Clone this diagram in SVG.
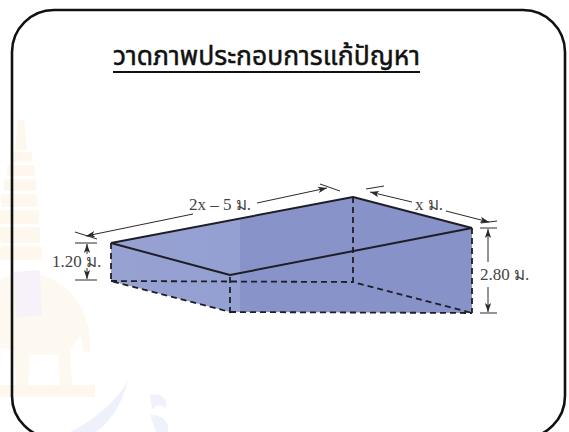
<svg xmlns="http://www.w3.org/2000/svg" width="569" height="432" viewBox="0 0 569 432">
  <style>
    .edge { fill: none; stroke: #1e1e24; stroke-width: 2; stroke-linejoin: round; }
    .hidden { fill: none; stroke: #1e1e24; stroke-width: 1.8; stroke-dasharray: 6 4; }
    .dim { fill: none; stroke: #2a2a2a; stroke-width: 1; }
    .lbl { font-family: "Liberation Serif", "DejaVu Serif", serif; font-size: 17px; fill: #444; }
    .title { font-family: "Noto Sans Thai", "Noto Sans", "DejaVu Sans", sans-serif; font-size: 27px; fill: #111; stroke: #111; stroke-width: 0.5; }
  </style>
  <defs>
    <marker id="ah" viewBox="0 0 10 10" refX="10" refY="5" markerWidth="9" markerHeight="9" markerUnits="userSpaceOnUse" orient="auto">
      <path d="M0,1.5 L10,5 L0,8.5 L2.5,5 Z" fill="#2a2a2a"/>
    </marker>
    <linearGradient id="boxFill" gradientUnits="userSpaceOnUse" x1="100" y1="0" x2="480" y2="0">
      <stop offset="0" stop-color="#97a2d3"/>
      <stop offset="0.368" stop-color="#95a0d2"/>
      <stop offset="0.368" stop-color="#8893c9"/>
      <stop offset="1" stop-color="#8692c8"/>
    </linearGradient>
  </defs>

  <rect width="569" height="432" fill="#ffffff"/>

  <!-- faint crest in the background -->
  <g id="watermark" opacity="0.12">
    <g fill="#f2c47a">
      <path d="M18,120 L24,120 L27,150 L15,150 Z"/>
      <rect x="10" y="152" width="22" height="10" rx="3"/>
      <rect x="7" y="165" width="28" height="11" rx="3"/>
      <rect x="4" y="179" width="32" height="12" rx="3"/>
      <rect x="1" y="194" width="36" height="13" rx="3"/>
      <rect x="0" y="210" width="39" height="14" rx="3"/>
      <rect x="0" y="227" width="40" height="16" rx="3"/>
      <rect x="0" y="246" width="42" height="14" rx="3"/>
    </g>
    <path d="M0,280 C20,268 50,272 68,290 C84,306 92,330 90,352 L84,352 L80,335 L70,350 L72,385 L60,385 L58,355 L30,355 L28,385 L16,385 L14,350 L0,348 Z" fill="#f3cf94"/>
    <path d="M14,272 L40,270 L42,315 L16,318 Z" fill="#c59bd0"/>
    <rect x="0" y="385" width="95" height="12" fill="#f2c47a"/>
    <path d="M70,432 C95,420 118,400 128,380 C122,405 110,422 96,432 Z" fill="#7d8fe0"/>
    <path d="M150,395 C160,392 168,398 166,408 C160,404 156,404 152,410 Z M150,415 C160,414 170,420 168,432 L156,432 Z" fill="#8d9de6"/>
  </g>

  <!-- card frame -->
  <rect id="frame" x="12" y="10" width="553" height="428" rx="42" ry="42" fill="none" stroke="#111" stroke-width="2.6"/>

  <!-- heading -->
  <g id="heading">
    <text class="title" x="266.5" y="65" text-anchor="middle" textLength="307" lengthAdjust="spacingAndGlyphs">วาดภาพประกอบการแก้ปัญหา</text>
    <line x1="113" y1="72" x2="420" y2="72" stroke="#111" stroke-width="2"/>
  </g>

  <!-- the solid -->
  <g id="solid">
    <polygon points="111,243 353,197 472,228 472,313 230,312 111,281" fill="url(#boxFill)"/>
    <!-- hidden edges -->
    <polyline class="hidden" points="111,243 111,281 230,312 230,275"/>
    <line class="hidden" x1="111" y1="281" x2="353" y2="282"/>
    <polyline class="hidden" points="353,197 353,282 472,313"/>
    <line class="hidden" x1="230" y1="312" x2="472" y2="313"/>
    <line class="hidden" x1="472" y1="228" x2="472" y2="313"/>
    <!-- visible top edges -->
    <polyline class="edge" points="111,243 353,197 472,228"/>
    <polyline class="edge" points="111,243 230,275 472,228"/>
  </g>

  <!-- dimension lines -->
  <g id="connectors">
    <!-- slant length along the long side -->
    <line class="dim" x1="193" y1="214" x2="86" y2="236" marker-end="url(#ah)"/>
    <line class="dim" x1="75" y1="232" x2="97" y2="239"/>
    <line class="dim" x1="257" y1="203" x2="327" y2="188" marker-end="url(#ah)"/>
    <line class="dim" x1="320" y1="184" x2="340" y2="191"/>
    <!-- slant length along the short side -->
    <line class="dim" x1="412" y1="202" x2="370" y2="192" marker-end="url(#ah)"/>
    <line class="dim" x1="366" y1="189" x2="384" y2="186"/>
    <line class="dim" x1="446" y1="211" x2="489" y2="222" marker-end="url(#ah)"/>
    <line class="dim" x1="481" y1="223" x2="497" y2="221"/>
    <!-- height at the low end -->
    <line class="dim" x1="75" y1="243" x2="97" y2="243"/>
    <line class="dim" x1="75" y1="280" x2="97" y2="280"/>
    <line class="dim" x1="87" y1="254" x2="87" y2="244" marker-end="url(#ah)"/>
    <line class="dim" x1="87" y1="268" x2="87" y2="279" marker-end="url(#ah)"/>
    <!-- height at the high end -->
    <line class="dim" x1="480" y1="228" x2="497" y2="228"/>
    <line class="dim" x1="480" y1="313" x2="497" y2="313"/>
    <line class="dim" x1="488" y1="262" x2="488" y2="229" marker-end="url(#ah)"/>
    <line class="dim" x1="488" y1="287" x2="488" y2="312" marker-end="url(#ah)"/>
  </g>

  <g id="labels">
    <text class="lbl" x="189" y="210">2x – 5  ม.</text>
    <text class="lbl" x="415" y="210">x ม.</text>
    <text class="lbl" x="52" y="267">1.20 ม.</text>
    <text class="lbl" x="480" y="280">2.80 ม.</text>
  </g>
</svg>
